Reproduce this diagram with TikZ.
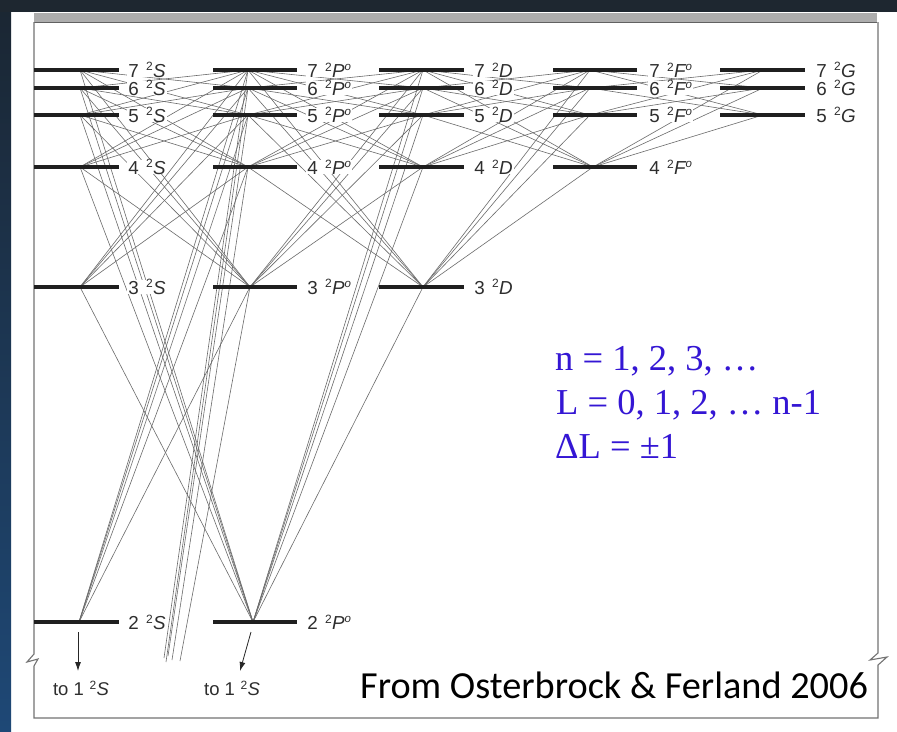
\documentclass[tikz,border=0pt]{standalone}
\usepackage{fontspec}
\setmainfont{Liberation Sans}
\newfontfamily\bluefont{Liberation Serif}
\newfontfamily\calib{Carlito}
\usetikzlibrary{arrows.meta,calc}
\definecolor{topdark}{RGB}{30,39,48}
\definecolor{sidetop}{RGB}{27,38,50}
\definecolor{sidebot}{RGB}{30,72,118}
\definecolor{eqblue}{RGB}{52,22,212}
\newcommand\suptwo{\raisebox{0.33em}{\fontsize{12}{12}\selectfont 2}}
\newcommand\supo{\raisebox{0.36em}{\fontsize{11.5}{11.5}\selectfont\itshape o}}
\newcommand\lv[2]{#1\hspace{0.38em}\suptwo\kern0.02em\textit{#2}}
\begin{document}
\begin{tikzpicture}[x=1pt,y=-1pt,
  level/.style={line width=3.3pt,black!88},
  trans/.style={line width=0.6pt,black!58},
  lab/.style={anchor=west,fill=white,inner xsep=1.2pt,inner ysep=0pt,text=black!82,font=\fontsize{18.8}{18.8}\selectfont},
  tolab/.style={inner sep=1pt,text=black!82,font=\fontsize{18.5}{18.5}\selectfont},
  frameline/.style={line width=1.1pt,black!55,line join=miter},
  eq/.style={anchor=base west,inner sep=0pt,text=eqblue,font=\bluefont\fontsize{36.5}{36.5}\selectfont},
  down/.style={-{Latex[length=9pt,width=6pt]},line width=0.8pt,black!85}]
\useasboundingbox (0,0) rectangle (897,731);
% slide background
\fill[white] (0,0) rectangle (897,731);
\shade[top color=sidetop,bottom color=sidebot] (0,0) rectangle (11,731);
\fill[topdark] (0,0) rectangle (897,11.5);
% scanned frame
\fill[black!32] (34,13) rectangle (877,22.5);
\draw[black!62,line width=1pt] (34,22.5) -- (877,22.5);
\draw[frameline] (34,22) -- (34,654) -- (27,662) -- (38,659) -- (34,666) -- (34,718)
  -- (878,718) -- (878,665) -- (887,657) -- (870,660) -- (878,653) -- (878,22);
% level positions (transition points)
\coordinate (S2) at (79,622);
\foreach \n/\y in {3/287,4/167,5/115,6/88,7/70} {\coordinate (S\n) at (80,\y);}
\coordinate (P2) at (253,622);
\coordinate (P3) at (250,287);
\foreach \n/\y in {4/167,5/115,6/88,7/70} {\coordinate (P\n) at (248,\y);}
\foreach \n/\y in {3/287,4/167,5/115,6/88,7/70} {\coordinate (D\n) at (423,\y);}
\coordinate (F4) at (593,167);
\foreach \n/\y in {5/115,6/88,7/70} {\coordinate (F\n) at (590,\y);}
\foreach \n/\y in {5/115,6/88,7/70} {\coordinate (G\n) at (763,\y);}
% free ends of the nP -> 1S lines (running off the bottom)
\coordinate (E3) at (180,661);
\coordinate (E4) at (172,660);
\coordinate (E5) at (168,656);
\coordinate (E6) at (166,662);
\coordinate (E7) at (164,658);
% transitions
\foreach \a in {2,...,7} {\foreach \b in {2,...,7} {\ifnum\a=\b\else\draw[trans] (S\a) -- (P\b);\fi}}
\foreach \a in {2,...,7} {\foreach \b in {3,...,7} {\ifnum\a=\b\else\draw[trans] (P\a) -- (D\b);\fi}}
\foreach \a in {3,...,7} {\foreach \b in {4,...,7} {\ifnum\a=\b\else\draw[trans] (D\a) -- (F\b);\fi}}
\foreach \a in {4,...,7} {\foreach \b in {5,...,7} {\ifnum\a=\b\else\draw[trans] (F\a) -- (G\b);\fi}}
\foreach \n in {3,...,7} {\draw[trans] (P\n) -- (E\n);}
% energy levels
\foreach \n/\y in {2/622,3/287,4/167,5/115,6/88,7/70} {
  \draw[level] (34,\y) -- (119,\y);
  \draw[level] (213,\y) -- (297,\y);}
\foreach \n/\y in {3/287,4/167,5/115,6/88,7/70} {\draw[level] (379,\y) -- (464,\y);}
\foreach \n/\y in {4/167,5/115,6/88,7/70} {\draw[level] (553,\y) -- (637,\y);}
\foreach \n/\y in {5/115,6/88,7/70} {\draw[level] (720,\y) -- (805,\y);}
% labels
\foreach \n/\y in {2/622,3/287,4/167,5/115,6/88,7/70} {
  \node[lab] (lS\n) at (127,\y) {\lv{\n}{S}};
  \node[lab] (lP\n) at (306,\y) {\lv{\n}{P\supo}};}
\foreach \n/\y in {3/287,4/167,5/115,6/88,7/70} {\node[lab] (lD\n) at (473,\y) {\lv{\n}{D}};}
\foreach \n/\y in {4/167,5/115,6/88,7/70} {\node[lab] (lF\n) at (648,\y) {\lv{\n}{F\supo}};}
\foreach \n/\y in {5/115,6/88,7/70} {\node[lab] (lG\n) at (815,\y) {\lv{\n}{G}};}
% decays to the ground state
\coordinate (a1s) at (78,632);
\coordinate (a1e) at (78,671);
\coordinate (a2s) at (251,632);
\coordinate (a2e) at (240,671);
\draw[down] (a1s) -- (a1e);
\draw[down] (a2s) -- (a2e);
\node[tolab] (to1) at (81,688) {to 1\hspace{0.3em}\suptwo\kern0.02em\textit{S}};
\node[tolab] (to2) at (232,688) {to 1\hspace{0.3em}\suptwo\kern0.02em\textit{S}};
% selection rules
\node[eq] (eq1) at (555,370) {n = 1, 2, 3, …};
\node[eq] (eq2) at (556,414) {L = 0, 1, 2, … n-1};
\node[eq] (eq3) at (555,458) {ΔL = ±1};
% source
\node[anchor=base west,inner sep=0pt,font=\calib\fontsize{38.3}{38.3}\selectfont] (src) at (360,698) {From Osterbrock \& Ferland 2006};
\end{tikzpicture}
\end{document}
